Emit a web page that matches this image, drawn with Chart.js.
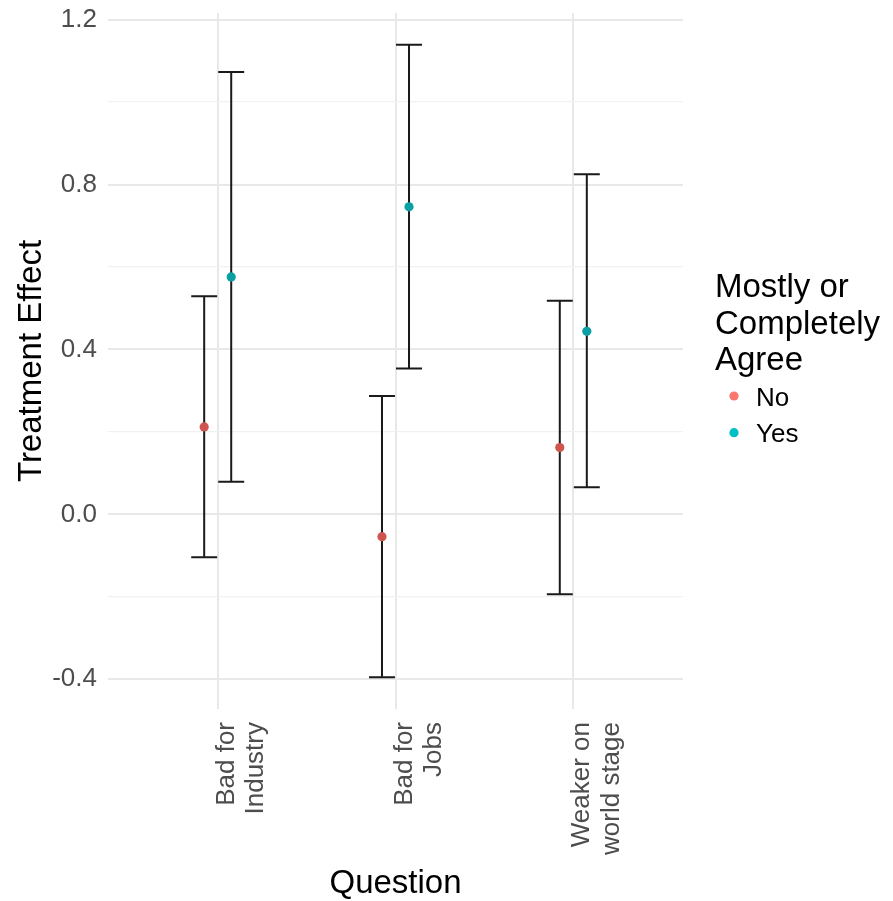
<!DOCTYPE html>
<html>
<head>
<meta charset="utf-8">
<script src="https://cdn.jsdelivr.net/npm/chart.js@4.4.1/dist/chart.umd.min.js"></script>
<style>
  html, body { margin: 0; padding: 0; background: #fff; }
</style>
</head>
<body>
<canvas id="chart" width="893" height="901"></canvas>
<script>
// categories on the x axis (each label is two lines)
const questions = [["Bad for", "Industry"], ["Bad for", "Jobs"], ["Weaker on", "world stage"]];
const groups = ["No", "Yes"];

// treatment effect estimates and interval ends
const noEst = [0.212, -0.054, 0.162];
const noLo  = [-0.104, -0.395, -0.194];
const noHi  = [0.529, 0.287, 0.518];
const yesEst = [0.576, 0.746, 0.444];
const yesLo  = [0.079, 0.354, 0.066];
const yesHi  = [1.073, 1.139, 0.825];

// y ticks: labelled every 0.4, minor grid every 0.2
const yTicks = [-0.4, -0.2, 0.0, 0.2, 0.4, 0.6, 0.8, 1.0, 1.2];

const legendColors = { No: "#F8766D", Yes: "#00BFC4" };
const pointColors = { No: "#cf554f", Yes: "#0a9fa2" };
const dodge = 0.076;   // half of the dodge between No / Yes
const capHalf = 0.073; // half width of error bar caps
const FONT = "'Liberation Sans', Arial, Helvetica, sans-serif";

const series = [
    { name: "No", est: noEst, lo: noLo, hi: noHi, shift: -dodge },
    { name: "Yes", est: yesEst, lo: yesLo, hi: yesHi, shift: dodge },
];

const errorBars = {
    id: "errorBars",
    beforeDatasetsDraw(chart) {
        const { ctx, scales: { x, y } } = chart;
        ctx.save();
        ctx.strokeStyle = "#1a1a1a";
        ctx.lineWidth = 2;
        series.forEach((s) => {
            s.est.forEach((_, i) => {
                const cx = i + 1 + s.shift;
                const px = x.getPixelForValue(cx);
                const pl = x.getPixelForValue(cx - capHalf);
                const pr = x.getPixelForValue(cx + capHalf);
                const top = y.getPixelForValue(s.hi[i]);
                const bot = y.getPixelForValue(s.lo[i]);
                ctx.beginPath();
                ctx.moveTo(px, top);
                ctx.lineTo(px, bot);
                ctx.moveTo(pl, top);
                ctx.lineTo(pr, top);
                ctx.moveTo(pl, bot);
                ctx.lineTo(pr, bot);
                ctx.stroke();
            });
        });
        ctx.restore();
    },
};

const extraText = {
    id: "extraText",
    afterDraw(chart) {
        const { ctx, scales: { x, y } } = chart;
        ctx.save();
        // x tick labels, rotated 90 degrees, ending just under the panel
        ctx.fillStyle = "#4d4d4d";
        ctx.font = "26px " + FONT;
        ctx.textAlign = "right";
        ctx.textBaseline = "middle";
        const topY = chart.chartArea.bottom + 13;
        questions.forEach((lines, i) => {
            const px = x.getPixelForValue(i + 1);
            lines.forEach((line, j) => {
                ctx.save();
                ctx.translate(px + 9 + j * 29.5, topY);
                ctx.rotate(-Math.PI / 2);
                ctx.fillText(line, 0, 0);
                ctx.restore();
            });
        });

        // legend
        const lx = chart.chartArea.right + 32;
        ctx.fillStyle = "#000";
        ctx.textAlign = "left";
        ctx.textBaseline = "alphabetic";
        ctx.font = "33px " + FONT;
        ["Mostly or", "Completely", "Agree"].forEach((t, j) => {
            ctx.fillText(t, lx, 297 + j * 36.7);
        });
        ctx.font = "26px " + FONT;
        groups.forEach((g, j) => {
            const cy = 396 + j * 36.7;
            ctx.fillStyle = legendColors[g];
            ctx.beginPath();
            ctx.arc(lx + 19, cy, 4.6, 0, Math.PI * 2);
            ctx.fill();
            ctx.fillStyle = "#000";
            ctx.fillText(g, lx + 41, cy + 9.5);
        });
        ctx.restore();
    },
};

new Chart(document.getElementById("chart"), {
    type: "scatter",
    data: {
        datasets: series.map((s) => ({
            label: s.name,
            data: s.est.map((v, i) => ({ x: i + 1 + s.shift, y: v })),
            backgroundColor: pointColors[s.name],
            borderWidth: 0,
            pointRadius: 4.6,
        })),
    },
    options: {
        responsive: false,
        animation: false,
        layout: { padding: { top: 13, right: 210, bottom: 0, left: 0 } },
        plugins: {
            legend: { display: false },
            tooltip: { enabled: false },
        },
        scales: {
            x: {
                type: "linear",
                min: 0.383,
                max: 3.617,
                afterBuildTicks: (scale) => {
                    scale.ticks = questions.map((_, i) => ({ value: i + 1 }));
                },
                afterFit: (scale) => {
                    scale.height = 192;
                    scale.paddingLeft = 0;
                    scale.paddingRight = 0;
                },
                ticks: { display: false },
                grid: { color: "#e8e8e8", lineWidth: 2, drawTicks: false },
                border: { display: false },
                title: {
                    display: true,
                    text: "Question",
                    color: "#000",
                    font: { family: FONT, size: 33, lineHeight: 1 },
                    padding: { top: 0, bottom: 0.5 },
                },
            },
            y: {
                min: -0.472,
                max: 1.216,
                afterBuildTicks: (scale) => {
                    scale.ticks = yTicks.map((v) => ({ value: v }));
                },
                afterFit: (scale) => {
                    scale.width = 108;
                    scale.paddingTop = 0;
                    scale.paddingBottom = 0;
                },
                ticks: {
                    color: "#4d4d4d",
                    padding: 11,
                    font: { family: FONT, size: 26 },
                    callback: (v) => (Math.round(v * 10) % 4 === 0 ? v.toFixed(1) : ""),
                },
                grid: {
                    drawTicks: false,
                    color: (c) => (Math.round(c.tick.value * 10) % 4 === 0 ? "#e8e8e8" : "#f1f1f1"),
                    lineWidth: (c) => (Math.round(c.tick.value * 10) % 4 === 0 ? 2 : 1.2),
                },
                border: { display: false },
                title: {
                    display: true,
                    text: "Treatment Effect",
                    color: "#000",
                    font: { family: FONT, size: 33, lineHeight: 1 },
                    padding: { top: 15, bottom: 0 },
                },
            },
        },
    },
    plugins: [errorBars, extraText],
});
</script>
</body>
</html>
